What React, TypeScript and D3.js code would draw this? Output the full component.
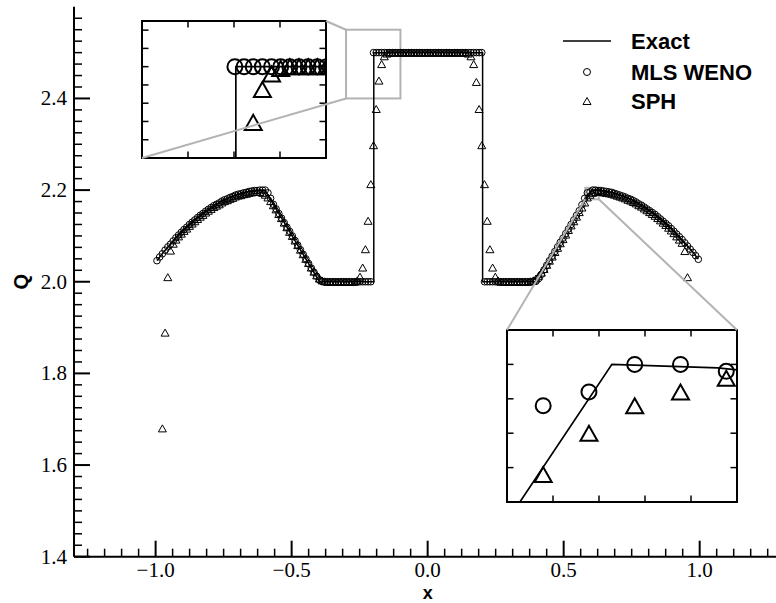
import React, { useEffect, useRef } from "react";
import * as d3 from "d3";

const WIDTH = 776;
const HEIGHT = 603;

// Cell-centred particles on [-1, 1]
const PARTICLE_COUNT = 201;
const DOMAIN_MIN = -1;
const DOMAIN_MAX = 1;

// Exact solution (polyline vertices)
const EXACT_X = [
  -0.995, -0.975, -0.95, -0.925, -0.9, -0.875, -0.85, -0.825, -0.8, -0.775,
  -0.75, -0.725, -0.7, -0.675, -0.65, -0.625, -0.598, -0.398, -0.198, -0.198,
  0.202, 0.202, 0.402, 0.602, 0.625, 0.65, 0.675, 0.7, 0.725, 0.75,
  0.775, 0.8, 0.825, 0.85, 0.875, 0.9, 0.925, 0.95, 0.975, 0.995,
];
const EXACT_Q = [
  2.0463, 2.0614, 2.0792, 2.0957, 2.1111, 2.1252, 2.1381, 2.1498, 2.1602, 2.1695,
  2.1775, 2.1843, 2.1899, 2.1942, 2.1974, 2.1993, 2.2, 2.0, 2.0, 2.5,
  2.5, 2.0, 2.0, 2.2, 2.1995, 2.1978, 2.1948, 2.1906, 2.1852, 2.1786,
  2.1708, 2.1618, 2.1515, 2.14, 2.1273, 2.1134, 2.0983, 2.0819, 2.0643, 2.0494,
];

// MLS WENO particle values (one per particle)
const MLS_WENO_Q: number[] = [
  2.046, 2.054, 2.061, 2.069, 2.076, 2.082, 2.089, 2.096, 2.102, 2.108,
  2.114, 2.119, 2.125, 2.130, 2.135, 2.140, 2.145, 2.149, 2.154, 2.158,
  2.162, 2.166, 2.169, 2.172, 2.176, 2.179, 2.181, 2.184, 2.186, 2.189,
  2.191, 2.192, 2.194, 2.195, 2.197, 2.198, 2.199, 2.199, 2.200, 2.200,
  2.200, 2.194, 2.182, 2.169, 2.159, 2.149, 2.139, 2.129, 2.119, 2.110,
  2.100, 2.090, 2.080, 2.070, 2.060, 2.050, 2.040, 2.030, 2.021, 2.012,
  2.004, 2.001, 2.000, 2.000, 2.000, 2.000, 2.000, 2.000, 2.000, 2.000,
  2.000, 2.000, 2.000, 2.000, 2.000, 2.000, 2.000, 2.000, 2.000, 2.000,
  2.500, 2.500, 2.500, 2.500, 2.500, 2.500, 2.500, 2.500, 2.500, 2.500,
  2.500, 2.500, 2.500, 2.500, 2.500, 2.500, 2.500, 2.500, 2.500, 2.500,
  2.500, 2.500, 2.500, 2.500, 2.500, 2.500, 2.500, 2.500, 2.500, 2.500,
  2.500, 2.500, 2.500, 2.500, 2.500, 2.500, 2.500, 2.500, 2.500, 2.500,
  2.500, 2.000, 2.000, 2.000, 2.000, 2.000, 2.000, 2.000, 2.000, 2.000,
  2.000, 2.000, 2.000, 2.000, 2.000, 2.000, 2.000, 2.000, 2.000, 2.000,
  2.001, 2.007, 2.016, 2.026, 2.036, 2.046, 2.056, 2.066, 2.076, 2.086,
  2.095, 2.105, 2.115, 2.125, 2.135, 2.145, 2.155, 2.168, 2.182, 2.194,
  2.196, 2.200, 2.200, 2.199, 2.199, 2.198, 2.197, 2.196, 2.195, 2.193,
  2.191, 2.189, 2.187, 2.185, 2.182, 2.180, 2.177, 2.174, 2.170, 2.167,
  2.163, 2.159, 2.155, 2.151, 2.147, 2.142, 2.137, 2.132, 2.127, 2.122,
  2.116, 2.110, 2.104, 2.098, 2.092, 2.085, 2.078, 2.071, 2.064, 2.057,
  2.049,
];

// SPH particle values (null where no value is plotted)
const SPH_Q: (number | null)[] = [
  null, null, 1.680, 1.889, 2.010, 2.068, 2.083, 2.092, 2.099, 2.105,
  2.111, 2.116, 2.122, 2.127, 2.132, 2.137, 2.142, 2.146, 2.151, 2.155,
  2.159, 2.163, 2.166, 2.169, 2.173, 2.176, 2.178, 2.181, 2.183, 2.186,
  2.188, 2.189, 2.191, 2.192, 2.194, 2.195, 2.196, 2.196, 2.196, 2.194,
  2.190, 2.184, 2.176, 2.167, 2.158, 2.148, 2.139, 2.129, 2.119, 2.109,
  2.100, 2.090, 2.080, 2.070, 2.060, 2.050, 2.041, 2.031, 2.022, 2.014,
  2.007, 2.003, 2.001, 2.000, 2.000, 2.000, 2.000, 2.000, 2.000, 2.000,
  2.000, 2.000, 2.000, 2.000, 2.003, 2.011, 2.031, 2.071, 2.133, 2.213,
  2.298, 2.377, 2.439, 2.475, 2.492, 2.498, 2.500, 2.500, 2.500, 2.500,
  2.500, 2.500, 2.500, 2.500, 2.500, 2.500, 2.500, 2.500, 2.500, 2.500,
  2.500, 2.500, 2.500, 2.500, 2.500, 2.500, 2.500, 2.500, 2.500, 2.500,
  2.500, 2.500, 2.500, 2.500, 2.500, 2.498, 2.492, 2.475, 2.436, 2.377,
  2.298, 2.213, 2.133, 2.071, 2.031, 2.011, 2.003, 2.000, 2.000, 2.000,
  2.000, 2.000, 2.000, 2.000, 2.000, 2.000, 2.000, 2.000, 2.001, 2.003,
  2.007, 2.013, 2.020, 2.028, 2.037, 2.046, 2.055, 2.065, 2.074, 2.084,
  2.093, 2.103, 2.113, 2.123, 2.132, 2.142, 2.152, 2.162, 2.173, 2.184,
  2.190, 2.194, 2.196, 2.198, 2.196, 2.195, 2.194, 2.193, 2.192, 2.190,
  2.188, 2.186, 2.184, 2.182, 2.179, 2.177, 2.174, 2.171, 2.167, 2.164,
  2.160, 2.156, 2.152, 2.148, 2.144, 2.139, 2.134, 2.129, 2.124, 2.118,
  2.112, 2.106, 2.099, 2.092, 2.085, 2.067, 2.010, null, null, null,
  null,
];

// Axes
const X_DOMAIN = [-1.3, 1.3];
const Q_DOMAIN = [1.4, 2.6];
const X_MAJOR_TICKS = [-1, -0.5, 0, 0.5, 1];
const Q_MAJOR_TICKS = [1.4, 1.6, 1.8, 2.0, 2.2, 2.4];
const X_MINOR_STEP = 0.0625;
const Q_MINOR_STEP = 0.025;

// Zoom windows
const LEFT_ZOOM_X = [-0.3, -0.1];
const LEFT_ZOOM_Q = [2.4, 2.55];
const LEFT_ZOOM_X_TICKS = [-0.25, -0.2, -0.15];
const LEFT_ZOOM_Q_TICKS = [2.42, 2.44, 2.46, 2.48, 2.5, 2.52, 2.54];
const RIGHT_ZOOM_X = [0.5792, 0.6292];
const RIGHT_ZOOM_Q = [2.18, 2.205];
const RIGHT_ZOOM_X_TICKS = [0.5892, 0.5992, 0.6092, 0.6192];
const RIGHT_ZOOM_Q_TICKS = [2.185, 2.19, 2.195, 2.2];

const LEGEND_LABELS = ["Exact", "MLS WENO", "SPH"];

const SERIF = "'Liberation Serif', 'Times New Roman', serif";
const SANS = "'Liberation Sans', Arial, sans-serif";
const GRAY = "#b3b3b3";

type Pt = { x: number; q: number };

function trianglePath(cx: number, cy: number, w: number, h: number) {
  return `M${cx - w / 2},${cy + h / 2}L${cx + w / 2},${cy + h / 2}L${cx},${cy - h / 2}Z`;
}

export default function App() {
  const ref = useRef<SVGSVGElement>(null);

  useEffect(() => {
    const svg = d3.select(ref.current as SVGSVGElement);
    svg.selectAll("*").remove();

    const step = (DOMAIN_MAX - DOMAIN_MIN) / PARTICLE_COUNT;
    const particleX = d3.range(PARTICLE_COUNT).map((i) => DOMAIN_MIN + (i + 0.5) * step);
    const mls: Pt[] = particleX.map((x, i) => ({ x, q: MLS_WENO_Q[i] }));
    const sph: Pt[] = [];
    particleX.forEach((x, i) => {
      const q = SPH_Q[i];
      if (q !== null) sph.push({ x, q });
    });
    const exact: Pt[] = EXACT_X.map((x, i) => ({ x, q: EXACT_Q[i] }));

    const left = 74;
    const bottom = 556.7;
    const top = 6.8;
    const x = d3.scaleLinear().domain(X_DOMAIN).range([left, 781.3]);
    const y = d3.scaleLinear().domain(Q_DOMAIN).range([bottom, top]);

    const defs = svg.append("defs");
    defs
      .append("clipPath")
      .attr("id", "main-clip")
      .append("rect")
      .attr("x", left)
      .attr("y", top)
      .attr("width", WIDTH - left)
      .attr("height", bottom - top);

    // Zoom window outlines in the main frame
    const boxes = [
      { xd: LEFT_ZOOM_X, qd: LEFT_ZOOM_Q },
      { xd: RIGHT_ZOOM_X, qd: RIGHT_ZOOM_Q },
    ];
    boxes.forEach((b) => {
      svg
        .append("rect")
        .attr("x", x(b.xd[0]))
        .attr("y", y(b.qd[1]))
        .attr("width", x(b.xd[1]) - x(b.xd[0]))
        .attr("height", y(b.qd[0]) - y(b.qd[1]))
        .attr("fill", "none")
        .attr("stroke", GRAY)
        .attr("stroke-width", 2);
    });

    // Main data
    const plot = svg.append("g").attr("clip-path", "url(#main-clip)");
    const line = d3
      .line<Pt>()
      .x((d) => x(d.x))
      .y((d) => y(d.q));
    plot
      .append("path")
      .attr("d", line(exact) as string)
      .attr("fill", "none")
      .attr("stroke", "#000")
      .attr("stroke-width", 1.5);
    plot
      .selectAll("circle.mls")
      .data(mls)
      .join("circle")
      .attr("class", "mls")
      .attr("cx", (d) => x(d.x))
      .attr("cy", (d) => y(d.q))
      .attr("r", 3.3)
      .attr("fill", "none")
      .attr("stroke", "#000")
      .attr("stroke-width", 1);
    plot
      .selectAll("path.sph")
      .data(sph)
      .join("path")
      .attr("class", "sph")
      .attr("d", (d) => trianglePath(x(d.x), y(d.q), 8, 7))
      .attr("fill", "none")
      .attr("stroke", "#000")
      .attr("stroke-width", 1);

    // Axes
    const axes = svg.append("g").attr("stroke", "#000");
    axes.append("line").attr("x1", left).attr("x2", left).attr("y1", top).attr("y2", bottom).attr("stroke-width", 2);
    axes.append("line").attr("x1", left).attr("x2", WIDTH).attr("y1", bottom).attr("y2", bottom).attr("stroke-width", 2);

    const isMajor = (v: number, majors: number[]) => majors.some((m) => Math.abs(m - v) < 1e-6);
    const xMinor = d3.range(-1.25, 1.25 + 1e-9, X_MINOR_STEP).filter((v) => !isMajor(v, X_MAJOR_TICKS));
    const qMinor = d3.range(1.4, 2.6 - 1e-9, Q_MINOR_STEP).filter((v) => !isMajor(v, Q_MAJOR_TICKS));

    xMinor.forEach((v) => {
      axes.append("line").attr("x1", x(v)).attr("x2", x(v)).attr("y1", bottom).attr("y2", bottom - 8).attr("stroke-width", 1.5);
    });
    X_MAJOR_TICKS.forEach((v) => {
      axes.append("line").attr("x1", x(v)).attr("x2", x(v)).attr("y1", bottom).attr("y2", bottom - 16).attr("stroke-width", 2);
    });
    qMinor.forEach((v) => {
      axes.append("line").attr("x1", left).attr("x2", left + 8).attr("y1", y(v)).attr("y2", y(v)).attr("stroke-width", 1.5);
    });
    Q_MAJOR_TICKS.forEach((v) => {
      axes.append("line").attr("x1", left).attr("x2", left + 16).attr("y1", y(v)).attr("y2", y(v)).attr("stroke-width", 2);
    });

    const fmt = d3.format(".1f");
    svg
      .selectAll("text.xtick")
      .data(X_MAJOR_TICKS)
      .join("text")
      .attr("class", "xtick")
      .attr("x", (d) => x(d))
      .attr("y", 577)
      .attr("text-anchor", "middle")
      .attr("font-family", SERIF)
      .attr("font-size", 21)
      .text((d) => fmt(d));
    svg
      .selectAll("text.ytick")
      .data(Q_MAJOR_TICKS)
      .join("text")
      .attr("class", "ytick")
      .attr("x", 67)
      .attr("y", (d) => y(d) + 7)
      .attr("text-anchor", "end")
      .attr("font-family", SERIF)
      .attr("font-size", 21)
      .text((d) => fmt(d));

    svg
      .append("text")
      .attr("x", x(0))
      .attr("y", 599)
      .attr("text-anchor", "middle")
      .attr("font-family", SANS)
      .attr("font-weight", "bold")
      .attr("font-size", 18)
      .text("x");
    svg
      .append("text")
      .attr("transform", `translate(28,${y(2.0)}) rotate(-90)`)
      .attr("text-anchor", "middle")
      .attr("font-family", SANS)
      .attr("font-weight", "bold")
      .attr("font-size", 20)
      .text("Q");

    // Insets
    function drawInset(
      id: string,
      x0: number,
      y0: number,
      x1: number,
      y1: number,
      xd: number[],
      qd: number[],
      xTicks: number[],
      qTicks: number[]
    ) {
      const ix = d3.scaleLinear().domain(xd).range([x0, x1]);
      const iy = d3.scaleLinear().domain(qd).range([y1, y0]);
      defs
        .append("clipPath")
        .attr("id", id)
        .append("rect")
        .attr("x", x0)
        .attr("y", y0)
        .attr("width", x1 - x0)
        .attr("height", y1 - y0);
      const g = svg.append("g");
      g.append("rect").attr("x", x0).attr("y", y0).attr("width", x1 - x0).attr("height", y1 - y0).attr("fill", "#fff");
      const c = g.append("g").attr("clip-path", `url(#${id})`);
      const il = d3
        .line<Pt>()
        .x((d) => ix(d.x))
        .y((d) => iy(d.q));
      c.append("path").attr("d", il(exact) as string).attr("fill", "none").attr("stroke", "#000").attr("stroke-width", 1.7);
      c.selectAll("circle")
        .data(mls.filter((d) => d.x > xd[0] - 0.02 && d.x < xd[1] + 0.02))
        .join("circle")
        .attr("cx", (d) => ix(d.x))
        .attr("cy", (d) => iy(d.q))
        .attr("r", 7.5)
        .attr("fill", "none")
        .attr("stroke", "#000")
        .attr("stroke-width", 2);
      c.selectAll("path.tri")
        .data(sph.filter((d) => d.x > xd[0] - 0.02 && d.x < xd[1] + 0.02))
        .join("path")
        .attr("class", "tri")
        .attr("d", (d) => trianglePath(ix(d.x), iy(d.q), 17, 15))
        .attr("fill", "none")
        .attr("stroke", "#000")
        .attr("stroke-width", 2);
      const t = 6.5;
      xTicks.forEach((v) => {
        g.append("line").attr("x1", ix(v)).attr("x2", ix(v)).attr("y1", y0).attr("y2", y0 + t).attr("stroke", "#000").attr("stroke-width", 1.5);
        g.append("line").attr("x1", ix(v)).attr("x2", ix(v)).attr("y1", y1).attr("y2", y1 - t).attr("stroke", "#000").attr("stroke-width", 1.5);
      });
      qTicks.forEach((v) => {
        g.append("line").attr("x1", x0).attr("x2", x0 + t).attr("y1", iy(v)).attr("y2", iy(v)).attr("stroke", "#000").attr("stroke-width", 1.5);
        g.append("line").attr("x1", x1).attr("x2", x1 - t).attr("y1", iy(v)).attr("y2", iy(v)).attr("stroke", "#000").attr("stroke-width", 1.5);
      });
      g.append("rect")
        .attr("x", x0)
        .attr("y", y0)
        .attr("width", x1 - x0)
        .attr("height", y1 - y0)
        .attr("fill", "none")
        .attr("stroke", "#000")
        .attr("stroke-width", 2);
    }

    const L = { x0: 142, y0: 21, x1: 326, y1: 158 };
    const R = { x0: 507, y0: 330, x1: 737, y1: 502 };
    drawInset("inset-left", L.x0, L.y0, L.x1, L.y1, LEFT_ZOOM_X, LEFT_ZOOM_Q, LEFT_ZOOM_X_TICKS, LEFT_ZOOM_Q_TICKS);
    drawInset("inset-right", R.x0, R.y0, R.x1, R.y1, RIGHT_ZOOM_X, RIGHT_ZOOM_Q, RIGHT_ZOOM_X_TICKS, RIGHT_ZOOM_Q_TICKS);

    // Connector lines
    const connectors = [
      [L.x1, L.y0, x(LEFT_ZOOM_X[0]), y(LEFT_ZOOM_Q[1])],
      [L.x0, L.y1, x(LEFT_ZOOM_X[0]), y(LEFT_ZOOM_Q[0])],
      [R.x0, R.y0, x(RIGHT_ZOOM_X[0]), y(RIGHT_ZOOM_Q[0])],
      [R.x1, R.y0, x(RIGHT_ZOOM_X[1]), y(RIGHT_ZOOM_Q[0])],
    ];
    connectors.forEach(([a, b, c2, d]) => {
      svg.append("line").attr("x1", a).attr("y1", b).attr("x2", c2).attr("y2", d).attr("stroke", GRAY).attr("stroke-width", 2);
    });

    // Legend
    const lg = svg.append("g");
    const rowY = [41, 72, 101];
    lg.append("line").attr("x1", 563).attr("x2", 611).attr("y1", rowY[0]).attr("y2", rowY[0]).attr("stroke", "#000").attr("stroke-width", 1.5);
    lg.append("circle").attr("cx", 587).attr("cy", rowY[1]).attr("r", 3.5).attr("fill", "none").attr("stroke", "#000").attr("stroke-width", 1);
    lg.append("path").attr("d", trianglePath(587, rowY[2], 8, 7)).attr("fill", "none").attr("stroke", "#000").attr("stroke-width", 1);
    LEGEND_LABELS.forEach((label, i) => {
      lg.append("text")
        .attr("x", 631)
        .attr("y", rowY[i] + 8)
        .attr("font-family", SANS)
        .attr("font-weight", "bold")
        .attr("font-size", 22)
        .text(label);
    });
  }, []);

  return (
    <svg
      ref={ref}
      width={WIDTH}
      height={HEIGHT}
      style={{ position: "absolute", left: 0, top: 0, background: "#fff" }}
    />
  );
}
